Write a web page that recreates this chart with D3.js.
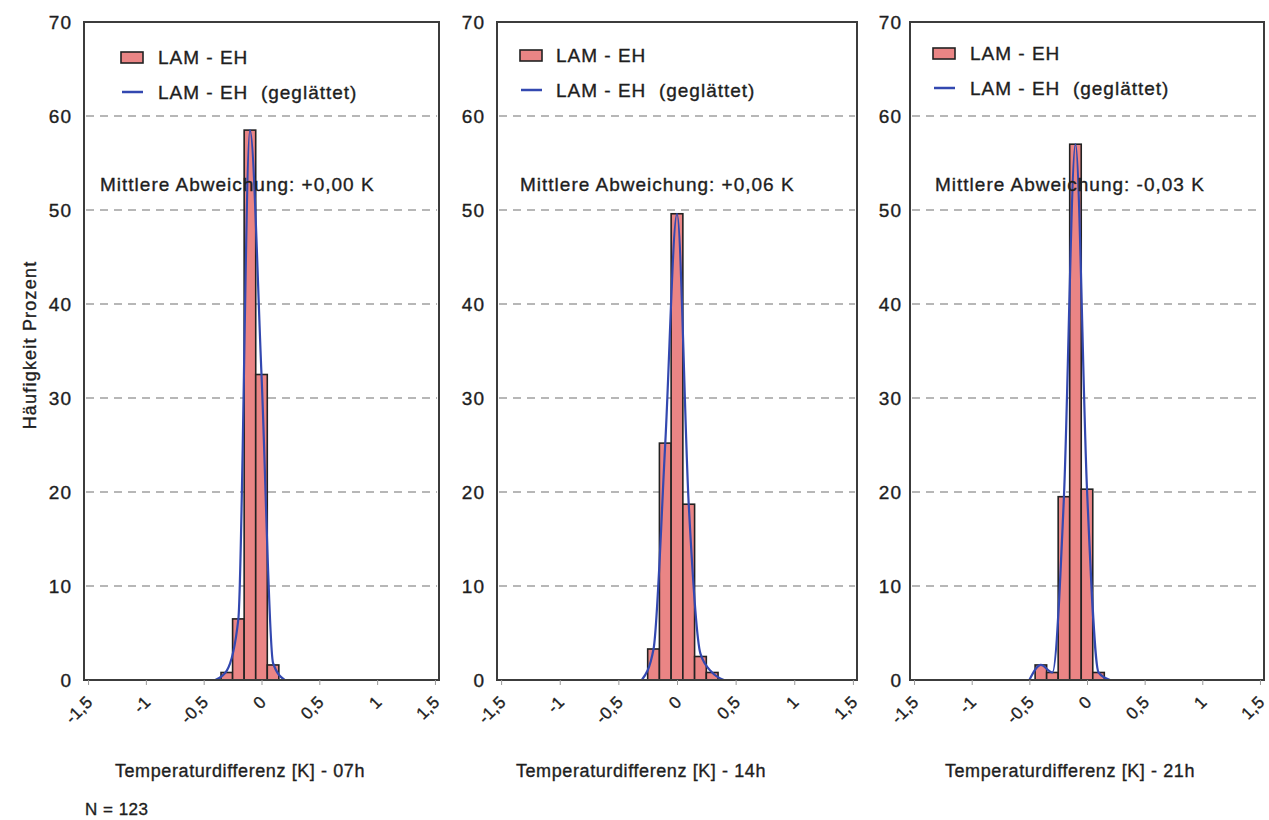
<!DOCTYPE html>
<html>
<head>
<meta charset="utf-8" />
<title>LAM - EH Temperaturdifferenz</title>
<script src="https://cdn.jsdelivr.net/npm/d3@7"></script>
<style>
  body { margin: 0; background: #fff; }
  svg { font-family: 'Liberation Sans', Arial, sans-serif; }
  svg text { stroke: #1e1e1e; stroke-width: 0.35px; }
  .grid line { stroke: #a0a0a0; stroke-dasharray: 8,6; stroke-width: 1.4px; }
  .bar { fill: #ea8585; stroke: #222; stroke-width: 1.6px; }
  .smooth { fill: none; stroke: #3348b0; stroke-width: 2.2px; }
  .frame { fill: none; stroke: #3c3c3c; stroke-width: 2px; }
  .axis text { fill: #1e1e1e; }
  .lbl { fill: #1e1e1e; font-size: 19px; letter-spacing: 1px; }
</style>
</head>
<body>
<svg id="chart" width="1269" height="820"></svg>
<script>
// --- data ---
const hours = ['07h', '14h', '21h'];
const means = ['+0,00 K', '+0,06 K', '-0,03 K'];

const bins07 = [-0.3, -0.2, -0.1, 0, 0.1];
const freq07 = [0.8, 6.5, 58.5, 32.5, 1.6];
const bins14 = [-0.2, -0.1, 0, 0.1, 0.2, 0.3];
const freq14 = [3.3, 25.2, 49.6, 18.7, 2.5, 0.8];
const bins21 = [-0.4, -0.3, -0.2, -0.1, 0, 0.1];
const freq21 = [1.6, 0.8, 19.5, 57.0, 20.3, 0.8];

const smoothX07 = [-0.4, -0.3, -0.2, -0.1, 0, 0.1, 0.2];
const smoothY07 = [0, 1.0, 6.5, 58.5, 32.5, 1.8, 0];
const smoothX14 = [-0.3, -0.2, -0.1, 0, 0.1, 0.2, 0.3, 0.4];
const smoothY14 = [0, 3.3, 25.2, 49.6, 18.7, 2.8, 0.8, 0];
const smoothX21 = [-0.5, -0.4, -0.3, -0.2, -0.1, 0, 0.1, 0.2];
const smoothY21 = [0, 1.6, 0.8, 19.5, 57.0, 20.3, 0.8, 0];

const xTicks = [-1.5, -1, -0.5, 0, 0.5, 1, 1.5];
const xTickLabels = ['-1,5', '-1', '-0,5', '0', '0,5', '1', '1,5'];
const yTicks = [0, 10, 20, 30, 40, 50, 60, 70];
const gridTicks = [10, 20, 30, 40, 50, 60];

const binWidth = 0.1;

// --- layout ---
const plotTop = 22, plotBottom = 680;
const panelLeft = [84, 497, 910];
const panelWidth = [355, 360, 354];
const legendX = [121, 520, 933];
const legendTextX = [158, 556, 970];
const legendY = [57, 55, 53];
const meanX = [100, 520, 935];
const titleX = [240, 641, 1070];

const binsAll = [bins07, bins14, bins21];
const freqAll = [freq07, freq14, freq21];
const smoothXAll = [smoothX07, smoothX14, smoothX21];
const smoothYAll = [smoothY07, smoothY14, smoothY21];

const svg = d3.select('#chart');

const y = d3.scaleLinear().domain([0, 70]).range([plotBottom, plotTop]);

hours.forEach((h, i) => {
  const left = panelLeft[i];
  const x = d3.scaleLinear()
    .domain([-1.535, 1.535])
    .range([left, left + panelWidth[i]]);

  const g = svg.append('g');

  // grid lines
  g.append('g')
    .attr('class', 'grid')
    .selectAll('line')
    .data(gridTicks)
    .enter()
    .append('line')
    .attr('x1', left + 2)
    .attr('x2', left + panelWidth[i] - 2)
    .attr('y1', (d) => y(d))
    .attr('y2', (d) => y(d));

  // bars
  const data = binsAll[i].map((b, k) => ({ b: b, v: freqAll[i][k] }));
  g.selectAll('.bar')
    .data(data)
    .enter()
    .append('rect')
    .attr('class', 'bar')
    .attr('x', (d) => x(d.b - binWidth / 2))
    .attr('width', (d) => x(d.b + binWidth / 2) - x(d.b - binWidth / 2))
    .attr('y', (d) => y(d.v))
    .attr('height', (d) => y(0) - y(d.v));

  // smoothed curve
  const pts = smoothXAll[i].map((v, k) => [v, smoothYAll[i][k]]);
  const line = d3.line()
    .x((d) => x(d[0]))
    .y((d) => y(d[1]))
    .curve(d3.curveMonotoneX);
  g.append('path').attr('class', 'smooth').attr('d', line(pts));

  // frame
  g.append('rect')
    .attr('class', 'frame')
    .attr('x', left)
    .attr('y', plotTop)
    .attr('width', panelWidth[i])
    .attr('height', plotBottom - plotTop);

  // y axis
  const yAxis = g.append('g')
    .attr('class', 'axis')
    .attr('transform', `translate(${left},0)`)
    .call(d3.axisLeft(y).tickValues(yTicks).tickSize(0).tickPadding(i === 2 ? 8 : 12));
  yAxis.select('.domain').remove();
  yAxis.selectAll('text')
    .style('font-size', '19px')
    .style('letter-spacing', '1px');

  // x axis
  const xAxis = g.append('g')
    .attr('class', 'axis')
    .attr('transform', `translate(0,${plotBottom})`)
    .call(d3.axisBottom(x)
      .tickValues(xTicks)
      .tickSize(5)
      .tickFormat((d, k) => xTickLabels[k]));
  xAxis.select('.domain').remove();
  xAxis.selectAll('line').attr('stroke', '#999');
  xAxis.selectAll('text')
    .style('font-size', '17px')
    .style('letter-spacing', '0.3px')
    .attr('text-anchor', 'end')
    .attr('x', 0)
    .attr('y', 0)
    .attr('dy', '0.35em')
    .attr('transform', 'translate(1,19) rotate(-45)');

  // legend
  g.append('rect')
    .attr('x', legendX[i])
    .attr('y', legendY[i] - 5)
    .attr('width', 22)
    .attr('height', 11)
    .attr('fill', '#ea8585')
    .attr('stroke', '#222')
    .attr('stroke-width', 1.6);
  g.append('text')
    .attr('class', 'lbl')
    .attr('x', legendTextX[i])
    .attr('y', legendY[i])
    .attr('dy', '0.35em')
    .text('LAM - EH');
  g.append('line')
    .attr('x1', legendX[i] + 1)
    .attr('x2', legendX[i] + 22)
    .attr('y1', legendY[i] + 35)
    .attr('y2', legendY[i] + 35)
    .attr('stroke', '#3348b0')
    .attr('stroke-width', 2.5);
  g.append('text')
    .attr('class', 'lbl')
    .attr('x', legendTextX[i])
    .attr('y', legendY[i] + 35)
    .attr('dy', '0.35em')
    .attr('xml:space', 'preserve')
    .text('LAM - EH  (geglättet)');

  // mean deviation
  g.append('text')
    .attr('class', 'lbl')
    .attr('x', meanX[i])
    .attr('y', 184)
    .attr('dy', '0.35em')
    .text('Mittlere Abweichung: ' + means[i]);

  // x title
  g.append('text')
    .attr('class', 'lbl')
    .attr('x', titleX[i])
    .attr('y', 771)
    .attr('dy', '0.35em')
    .attr('text-anchor', 'middle')
    .style('font-size', '18px')
    .style('letter-spacing', '0.6px')
    .text('Temperaturdifferenz [K] - ' + h);
});

// y title
svg.append('text')
  .attr('class', 'lbl')
  .attr('transform', 'translate(30,345) rotate(-90)')
  .attr('text-anchor', 'middle')
  .attr('dy', '0.35em')
  .style('font-size', '18px')
  .style('letter-spacing', '1.2px')
  .text('Häufigkeit Prozent');

svg.append('text')
  .attr('class', 'lbl')
  .attr('x', 85)
  .attr('y', 809)
  .attr('dy', '0.35em')
  .style('font-size', '17px')
  .style('letter-spacing', '0.5px')
  .text('N = 123');
</script>
</body>
</html>
